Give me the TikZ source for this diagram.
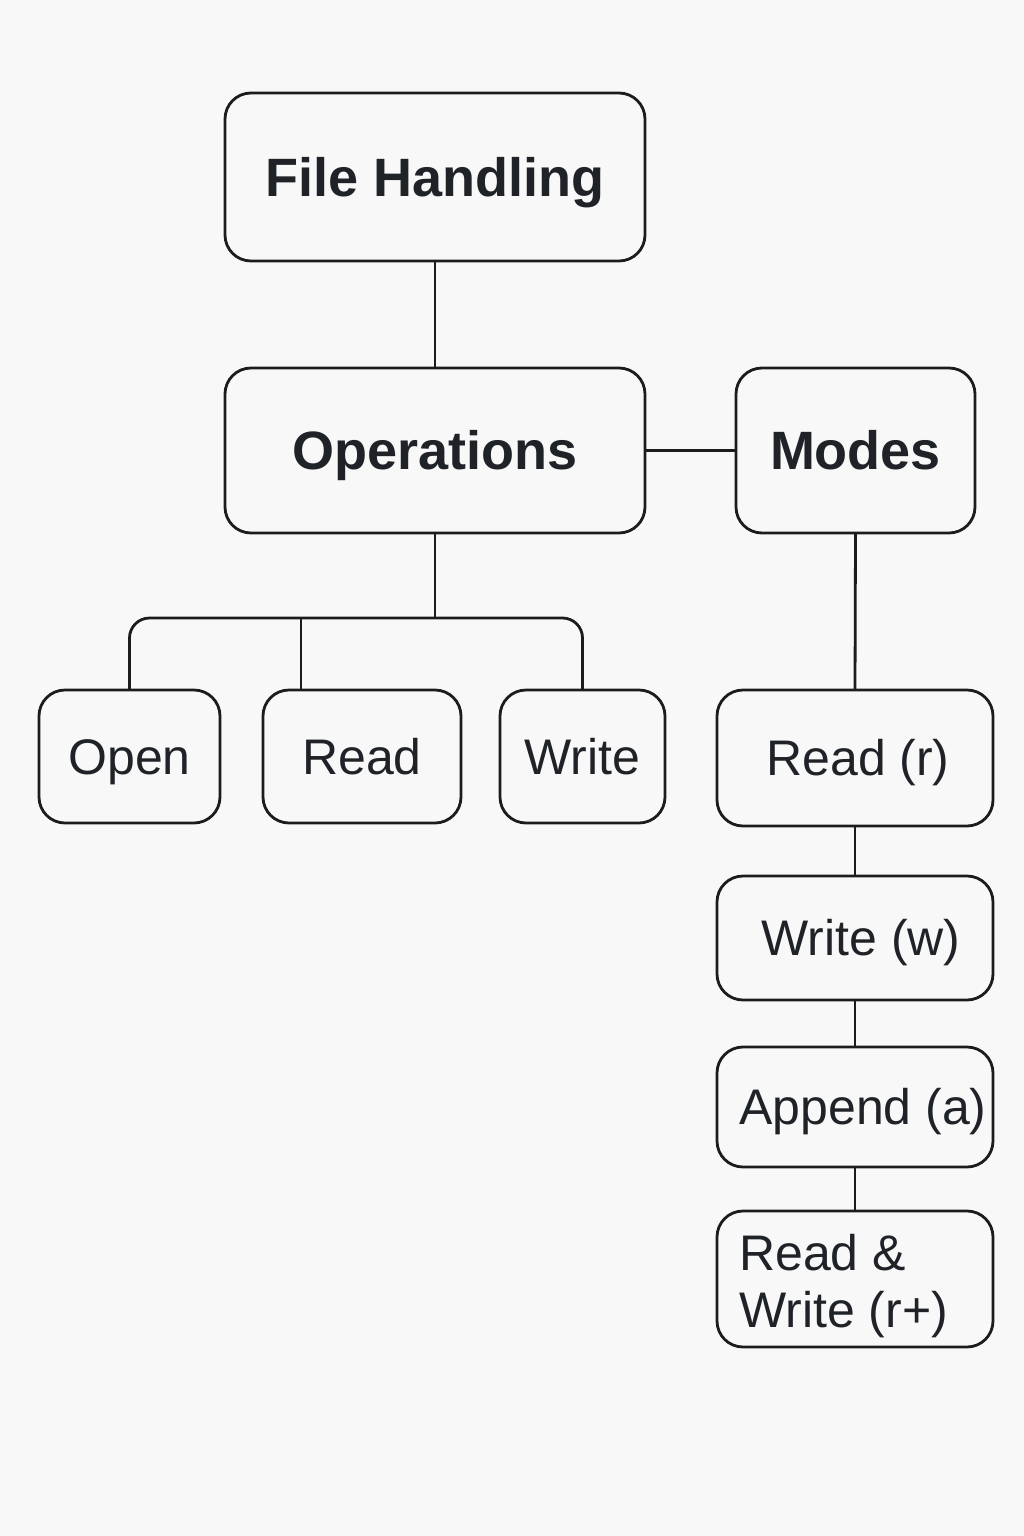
\documentclass[tikz,border=0pt]{standalone}
\usepackage{fontspec}
\setmainfont{Liberation Sans}
\begin{document}
\begin{tikzpicture}[x=1pt,y=-1pt,
  box/.style={draw=linecol, line width=2.8pt, rounded corners=26pt, fill=boxcol,
    inner sep=0pt, outer sep=0pt, text=textcol, text depth=0pt},
  headbox/.style={box, font=\fontsize{54}{60}\selectfont\bfseries, text height=38.7pt},
  itembox/.style={box, font=\fontsize{50}{57}\selectfont, text height=35.8pt},
  link/.style={draw=linecol, line width=2.8pt}]
\definecolor{bgcol}{HTML}{F8F8F8}
\definecolor{boxcol}{HTML}{F8F8F8}
\definecolor{linecol}{HTML}{1C1C1C}
\definecolor{textcol}{HTML}{1F2328}
\fill[bgcol] (0,0) rectangle (1024,1536);
\useasboundingbox (0,0) rectangle (1024,1536);

\node[headbox, minimum width=420pt, minimum height=168pt] (fh) at (435,177) {File Handling};
\node[headbox, minimum width=420pt, minimum height=165pt] (ops) at (435,450.5) {Operations};
\node[headbox, minimum width=239pt, minimum height=165pt] (modes) at (855.5,450.5) {Modes};

\node[itembox, minimum width=181pt, minimum height=133pt] (open) at (129.5,756.5) {Open};
\node[itembox, minimum width=198pt, minimum height=133pt] (read) at (362,756.5) {Read};
\node[itembox, minimum width=165pt, minimum height=133pt] (write) at (582.5,756.5) {Write};

\node[itembox, minimum width=276pt, minimum height=136pt] (rr) at (855,758) {\hspace*{6pt}Read (r)};
\node[itembox, minimum width=276pt, minimum height=124pt] (rw) at (855,938) {\hspace*{12pt}Write (w)};
\node[itembox, minimum width=276pt, minimum height=120pt] (ra) at (855,1107) {\hspace*{16pt}Append (a)};
\node[itembox, minimum width=276pt, minimum height=136pt] (rrw) at (855,1279) {};
\node[anchor=base west, inner sep=0pt, text=textcol, align=left,
      font=\fontsize{50}{57}\selectfont] (rrwtext) at (739,1327) {Read \&\\Write (r+)};

\coordinate (bar) at (435,618);
\draw[link] (fh.south) -- (ops.north);
\draw[link] (ops.east) -- (modes.west);
\draw[link] (ops.south) -- (bar);
\draw[link, rounded corners=20pt] (open.north) |- (bar) -| (write.north);
\draw[link] ([xshift=-61pt]read.north) -- ([xshift=-61pt]read.north |- bar);
\draw[link] (modes.south) -- (rr.north);
\draw[link] (rr.south) -- (rw.north);
\draw[link] (rw.south) -- (ra.north);
\draw[link] (ra.south) -- (rrw.north);
\end{tikzpicture}
\end{document}
